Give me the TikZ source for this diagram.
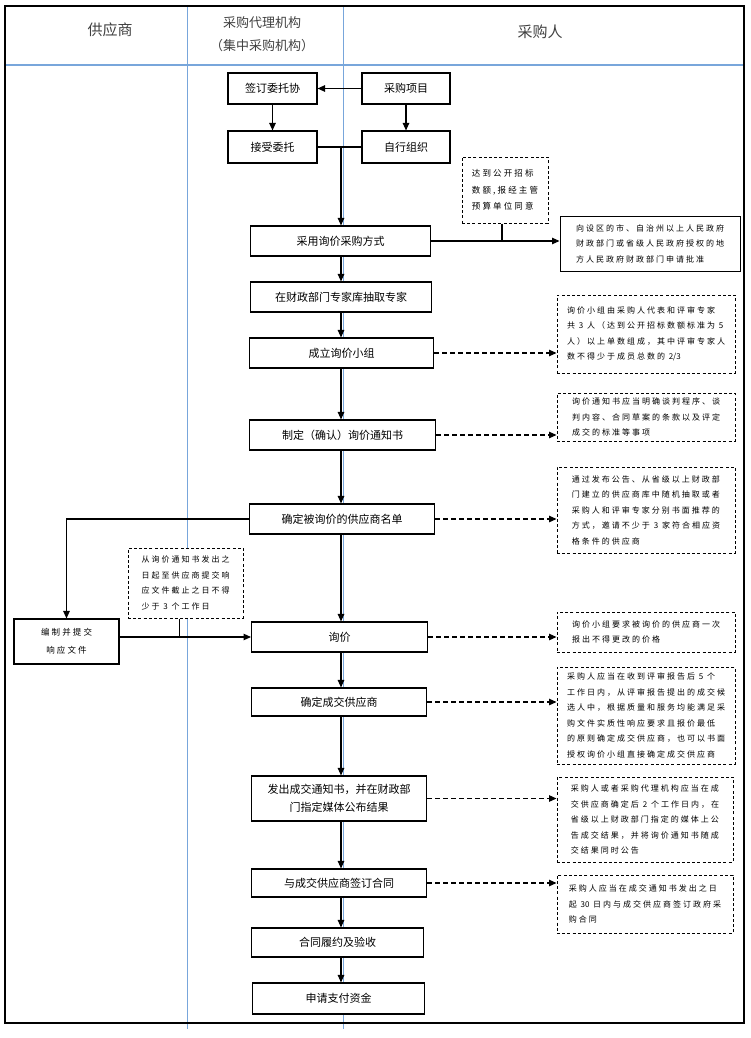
\documentclass[tikz,border=0pt]{standalone}
\usepackage{fontspec}
\setmainfont{Noto Sans CJK SC}
\newfontfamily\memofont[LetterSpace=25]{Noto Sans CJK SC}
\usetikzlibrary{arrows.meta,calc}
\definecolor{LaneClr}{rgb}{0.47,0.65,0.86}
\definecolor{HeadClr}{rgb}{0.25,0.25,0.25}
\newcommand\tight[1]{{\normalfont #1}}

\tikzset{
  flowbox/.style={draw,fill=white,line width=1.1pt,inner sep=0pt,align=center,
    font=\fontsize{11}{18}\selectfont},
  memo/.style={draw,fill=white,line width=1pt,dash pattern=on 3pt off 2.2pt,
    inner sep=0pt,align=left,font=\memofont\fontsize{8}{15.5}\selectfont},
  head/.style={text=HeadClr,align=center},
  link/.style={line width=1.1pt},
  arr/.style={link,-{Triangle[length=7.5pt,width=6.5pt]}},
  darr/.style={arr,dash pattern=on 5pt off 3pt},
}

\begin{document}
\begin{tikzpicture}[x=1pt,y=-1pt]
\useasboundingbox (0,0) rectangle (750,1038);

% lanes
\draw[LaneClr,line width=1.2pt] (5,65) -- (744,65);
\draw[LaneClr,line width=1pt] (187,6) -- (187,1029);
\draw[LaneClr,line width=1pt] (343,6) -- (343,1029);
\draw[line width=1.8pt] (5,6) rectangle (744,1023);

\node[head,font=\fontsize{15}{20}\selectfont] (hgy) at (110,30) {供应商};
\node[head,font=\fontsize{13}{23}\selectfont] (hdl) at (262,34) {采购代理机构\\（集中采购机构）};
\node[head,font=\fontsize{15}{20}\selectfont] (hcg) at (540,32) {采购人};

\coordinate (ax) at (341,0);

% main flow
\node[flowbox,minimum width=89pt,minimum height=31pt] (qd) at (272.5,88.5) {签订委托协};
\node[flowbox,minimum width=88pt,minimum height=31pt] (xm) at (406,88.5) {采购项目};
\node[flowbox,minimum width=89pt,minimum height=32pt] (js) at (272.5,147) {接受委托};
\node[flowbox,minimum width=88pt,minimum height=32pt] (zx) at (406,147) {自行组织};

\node[flowbox,minimum width=180pt,minimum height=30pt,anchor=west] (cy) at (250,241) {采用询价采购方式};
\node[flowbox,minimum width=181pt,minimum height=30pt,anchor=west] (cq) at (250,297) {在财政部门专家库抽取专家};
\node[flowbox,minimum width=184pt,minimum height=30pt,anchor=west] (cl) at (249,353) {成立询价小组};
\node[flowbox,minimum width=186pt,minimum height=30pt,anchor=west] (zd) at (249,435) {制定（确认）询价通知书};
\node[flowbox,minimum width=185pt,minimum height=30pt,anchor=west] (md) at (249,519) {确定被询价的供应商名单};
\node[flowbox,minimum width=176pt,minimum height=30pt,anchor=west] (xj) at (251,637) {询价};
\node[flowbox,minimum width=175pt,minimum height=28pt,anchor=west] (cj) at (251,702) {确定成交供应商};
\node[flowbox,minimum width=175pt,minimum height=45pt,anchor=west] (fc) at (251,798.5) {发出成交通知书，并在财政部\\门指定媒体公布结果};
\node[flowbox,minimum width=175pt,minimum height=28pt,anchor=west] (qy) at (251,883) {与成交供应商签订合同};
\node[flowbox,minimum width=172pt,minimum height=29pt,anchor=west] (ly) at (251,942.5) {合同履约及验收};
\node[flowbox,minimum width=172pt,minimum height=31pt,anchor=west] (zf) at (252,998.5) {申请支付资金};

\node[flowbox,minimum width=105pt,minimum height=45pt,font=\memofont\fontsize{8.5}{18}\selectfont] (bz) at (66.5,641.5) {编制并提交\\响应文件};

% notes
\node[memo,minimum width=86pt,minimum height=66pt,font=\memofont\fontsize{8.5}{16.5}\selectfont] (gk) at (505,190) {达到公开招标\\数额,报经主管\\预算单位同意};
\node[memo,solid,minimum width=180pt,minimum height=55pt] (pz) at (650,243.5) {向设区的市、自治州以上人民政府\\财政部门或省级人民政府授权的地\\方人民政府财政部门申请批准};
\node[memo,minimum width=178pt,minimum height=78pt] (ncl) at (646,334) {询价小组由采购人代表和评审专家\\共 \tight{3} 人（达到公开招标数额标准为 \tight{5}\\人）以上单数组成，其中评审专家人\\数不得少于成员总数的 \tight{2/3}};
\node[memo,minimum width=178pt,minimum height=48pt] (nzd) at (646,417) {询价通知书应当明确谈判程序、谈\\判内容、合同草案的条款以及评定\\成交的标准等事项};
\node[memo,minimum width=178pt,minimum height=86pt] (nmd) at (646,510) {通过发布公告、从省级以上财政部\\门建立的供应商库中随机抽取或者\\采购人和评审专家分别书面推荐的\\方式，邀请不少于 \tight{3} 家符合相应资\\格条件的供应商};
\node[memo,minimum width=115pt,minimum height=70pt] (nbz) at (185.5,583) {从询价通知书发出之\\日起至供应商提交响\\应文件截止之日不得\\少于 \tight{3} 个工作日};
\node[memo,minimum width=178pt,minimum height=40pt] (nxj) at (646,632) {询价小组要求被询价的供应商一次\\报出不得更改的价格};
\node[memo,minimum width=178pt,minimum height=97pt] (ncj) at (646,715.5) {采购人应当在收到评审报告后 \tight{5} 个\\工作日内，从评审报告提出的成交候\\选人中，根据质量和服务均能满足采\\购文件实质性响应要求且报价最低\\的原则确定成交供应商，也可以书面\\授权询价小组直接确定成交供应商};
\node[memo,minimum width=176pt,minimum height=85pt] (nfc) at (645,819.5) {采购人或者采购代理机构应当在成\\交供应商确定后 \tight{2} 个工作日内，在\\省级以上财政部门指定的媒体上公\\告成交结果，并将询价通知书随成\\交结果同时公告};
\node[memo,minimum width=176pt,minimum height=58pt] (nqy) at (645,904) {采购人应当在成交通知书发出之日\\起 \tight{30} 日内与成交供应商签订政府采\\购合同};

% connectors
\draw[arr] (xm) -- (qd);
\draw[arr] (qd) -- (js);
\draw[arr] (xm) -- (zx);
\draw[link] (js.east) -- (js.east -| zx.west);
\coordinate (jn) at (js.east -| ax);
\draw[arr] (jn) -- (cy.north -| ax);

\draw[arr] (cy.east) -- (cy.east -| pz.west);
\draw[link] ([xshift=-3pt]gk.south) -- ([xshift=-3pt]gk.south |- cy.east);

\draw[arr] (cy.south -| ax) -- (cq.north -| ax);
\draw[arr] (cq.south -| ax) -- (cl.north -| ax);
\draw[arr] (cl.south -| ax) -- (zd.north -| ax);
\draw[arr] (zd.south -| ax) -- (md.north -| ax);
\draw[arr] (md.south -| ax) -- (xj.north -| ax);
\draw[arr] (xj.south -| ax) -- (cj.north -| ax);
\draw[arr] (cj.south -| ax) -- (fc.north -| ax);
\draw[arr] (fc.south -| ax) -- (qy.north -| ax);
\draw[arr] (qy.south -| ax) -- (ly.north -| ax);
\draw[arr] (ly.south -| ax) -- (zf.north -| ax);

\draw[darr] (cl.east) -- (cl.east -| ncl.west);
\draw[darr] (zd.east) -- (zd.east -| nzd.west);
\draw[darr] (md.east) -- (md.east -| nmd.west);
\draw[darr] (xj.east) -- (xj.east -| nxj.west);
\draw[darr] (cj.east) -- (cj.east -| ncj.west);
\draw[darr] (fc.east) -- (fc.east -| nfc.west);
\draw[darr] (qy.east) -- (qy.east -| nqy.west);

\draw[arr] (md.west) -| (bz.north);
\draw[arr] (bz.east |- xj.west) -- (xj.west);
\draw[link] ([xshift=-6pt]nbz.south) -- ([xshift=-6pt]nbz.south |- xj.west);

\end{tikzpicture}
\end{document}
